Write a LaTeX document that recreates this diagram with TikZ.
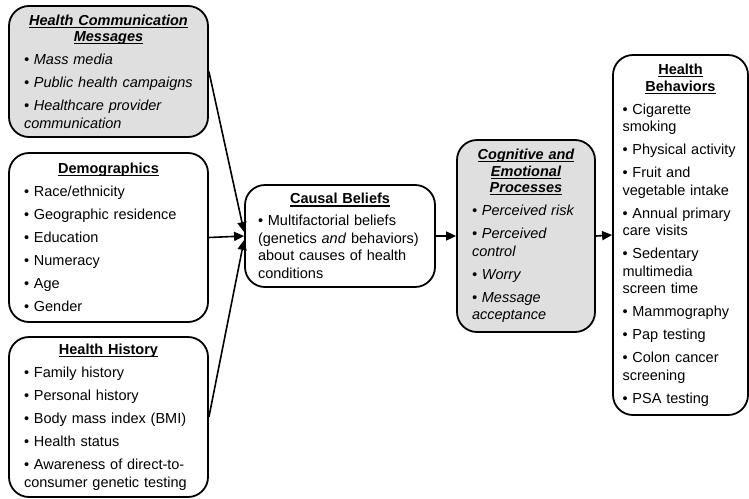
\documentclass[tikz,border=0pt]{standalone}
\usepackage{fontspec}
\setmainfont{Liberation Sans}
\newcommand*{\hdr}[1]{\makebox[\linewidth]{\bfseries\setbox0\hbox{#1}%
    \rlap{\rule[-2.6pt]{\wd0}{1.1pt}}\box0}}
\usepackage{tikz}
\usetikzlibrary{arrows.meta}
\definecolor{boxgray}{RGB}{223,223,223}
\tikzset{
    factor/.style = {draw,line width=1.8pt,rounded corners=20pt,align=left,
        inner ysep=4pt,font=\fontsize{14.5}{17.5}\selectfont},
    msg/.style = {factor,fill=boxgray,font=\fontsize{14.5}{17.5}\selectfont\itshape},
    flow/.style = {line width=1.6pt,-{Triangle[length=10pt,width=9pt]}}
}
\begin{document}
\begin{tikzpicture}[x=1pt,y=-1pt]
    \newcommand\igap{5.5pt}
    \useasboundingbox (0,0) rectangle (749,498);
    % Factors
    \path (108.5,71.5) node[msg,text width=169pt,inner xsep=15pt,minimum height=131pt] (msgs) {
        \hdr{Health Communication}\\[-1pt]
        \hdr{Messages}\\[\igap]
        • Mass media\\[\igap]
        • Public health campaigns\\[\igap]
        • Healthcare provider\\
        communication};
    \path (108.5,237.5) node[factor,text width=169pt,inner xsep=15pt,minimum height=169pt] (demog) {
        \hdr{Demographics}\\[\igap]
        • Race/ethnicity\\[\igap]
        • Geographic residence\\[\igap]
        • Education\\[\igap]
        • Numeracy\\[\igap]
        • Age\\[\igap]
        • Gender};
    \path (108.5,417) node[factor,text width=169pt,inner xsep=15pt,minimum height=160pt] (hist) {
        \hdr{Health History}\\[\igap]
        • Family history\\[\igap]
        • Personal history\\[\igap]
        • Body mass index (BMI)\\[\igap]
        • Health status\\[\igap]
        • Awareness of direct-to-\\
        consumer genetic testing};
    % Beliefs and processes
    \path (340,236) node[factor,text width=164pt,inner xsep=13pt,minimum height=102pt] (causal) {
        \hdr{Causal Beliefs}\\[4.5pt]
        • Multifactorial beliefs\\
        (genetics \textit{and} behaviors)\\
        about causes of health\\
        conditions};
    \path (526,236) node[msg,text width=108pt,inner xsep=15pt,minimum height=192pt] (cogn) {
        \hdr{Cognitive and}\\[-1pt]
        \hdr{Emotional}\\[-1pt]
        \hdr{Processes}\\[\igap]
        • Perceived risk\\[\igap]
        • Perceived\\
        control\\[\igap]
        • Worry\\[\igap]
        • Message\\
        acceptance};
    % Outcome
    \path (680.5,235) node[factor,text width=116pt,inner xsep=9.5pt,minimum height=360pt] (behav) {
        \hdr{Health}\\[-1pt]
        \hdr{Behaviors}\\[\igap]
        • Cigarette\\
        smoking\\[\igap]
        • Physical activity\\[\igap]
        • Fruit and\\
        vegetable intake\\[\igap]
        • Annual primary\\
        care visits\\[\igap]
        • Sedentary\\
        multimedia\\
        screen time\\[\igap]
        • Mammography\\[\igap]
        • Pap testing\\[\igap]
        • Colon cancer\\
        screening\\[\igap]
        • PSA testing};
    % Influences
    \draw[flow] (msgs.east) to ([yshift=4pt]causal.west);
    \draw[flow] (hist.east) to ([yshift=-4pt]causal.west);
    \foreach \src/\dest in {demog/causal,causal/cogn,cogn/behav}
        \draw[flow] (\src.east) to (\dest.west);
\end{tikzpicture}
\end{document}
